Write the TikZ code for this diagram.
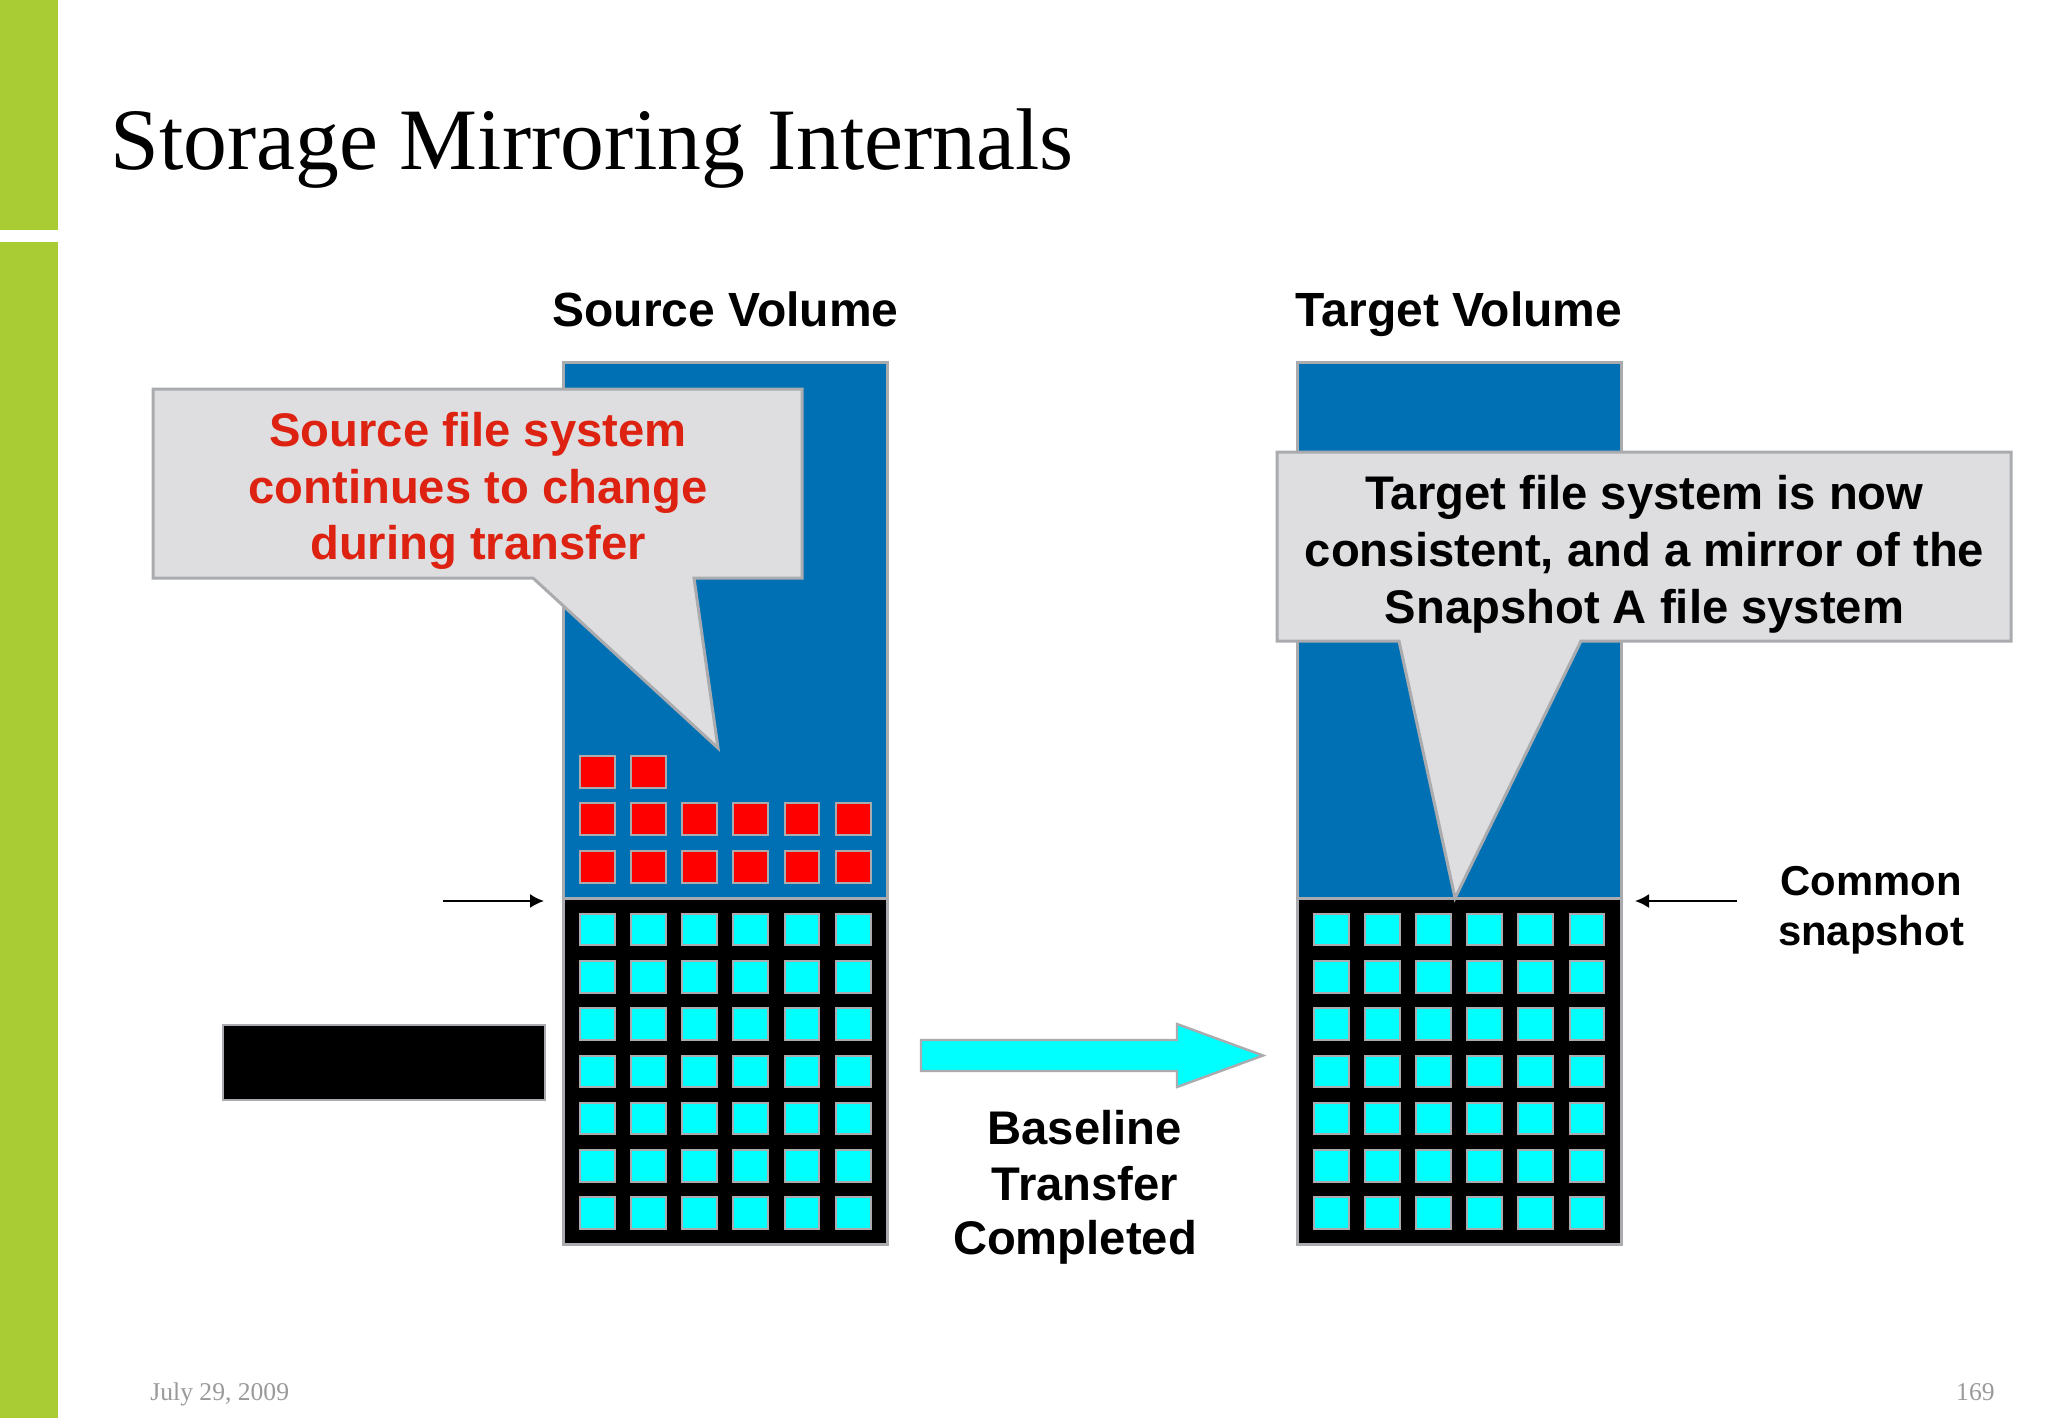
\documentclass[tikz,border=0pt]{standalone}
\usepackage{fontspec}
\setmainfont{Liberation Sans}
\newfontfamily\titlefont{Liberation Serif}
\definecolor{barGreen}{HTML}{A9CC35}
\definecolor{volBlue}{HTML}{0070B5}
\definecolor{edgeGrey}{HTML}{A9ABAE}
\definecolor{calloutGrey}{HTML}{DEDEE0}
\definecolor{calloutRed}{HTML}{DD2211}
\definecolor{cellCyan}{HTML}{00FFFF}
\definecolor{footGrey}{HTML}{9A9A9A}
\usetikzlibrary{arrows.meta}
\tikzset{
  x=0.5pt,y=-0.5pt,
  volume/.style={draw=edgeGrey,line width=1.5pt,fill=#1},
  cell/.style={draw=edgeGrey,line width=1pt,fill=#1,minimum width=17.4pt,minimum height=15.8pt,inner sep=0pt,outer sep=0pt},
  bub/.style={draw=edgeGrey,line width=1.5pt,fill=calloutGrey,line join=miter,miter limit=6},
  bigtext/.style={font=\fontsize{23.6}{28.4}\selectfont\bfseries,align=center,inner sep=0pt},
  headtext/.style={font=\fontsize{24}{28}\selectfont\bfseries,anchor=base,inner sep=0pt},
  smalltext/.style={font=\fontsize{20.9}{25}\selectfont\bfseries,align=center,inner sep=0pt},
  foot/.style={font=\titlefont\fontsize{12.8}{15}\selectfont,text=footGrey,inner sep=0pt},
  thin arrow/.style={draw=black,line width=0.9pt,-{Latex[length=7pt,width=7pt]}},
}
\begin{document}
\begin{tikzpicture}
\useasboundingbox (0,0) rectangle (2048,1418);
\fill[white] (0,0) rectangle (2048,1418);
% side bar
\fill[barGreen] (0,0) rectangle (58,230);
\fill[barGreen] (0,242) rectangle (58,1418);
% title
\node[anchor=base west,inner sep=0pt,font=\titlefont\fontsize{43.8}{50}\selectfont] (title) at (110,169) {Storage Mirroring Internals};
% headers
\node[headtext] (srchead) at (725.5,326) {Source Volume};
\node[headtext] (tgthead) at (1459,326) {Target Volume};
% volumes
\draw[volume=volBlue] (563,362) rectangle (887.5,898);
\draw[volume=black] (563,898) rectangle (887.5,1244);
\draw[volume=volBlue] (1297,362) rectangle (1621.5,898);
\draw[volume=black] (1297,898) rectangle (1621.5,1244);
% cells
\foreach \c in {0,...,5}{
  \foreach \r in {0,...,6}{
    \node[cell=cellCyan] (s\c\r) at ({597.4+51.15*\c},{929.4+47.3*\r}) {};
    \node[cell=cellCyan] (t\c\r) at ({1331.2+51.15*\c},{929.4+47.3*\r}) {};
  }
  \node[cell=red] (ra\c) at ({597.4+51.15*\c},866.7) {};
  \node[cell=red] (rb\c) at ({597.4+51.15*\c},819.2) {};
}
\node[cell=red] (rc0) at (597.4,772) {};
\node[cell=red] (rc1) at (648.55,772) {};
% callouts
\draw[bub] (153,389) -- (802,389) -- (802,578) -- (694,578) -- (718,748) -- (533,578) -- (153,578) -- cycle;
\node[bigtext,text=calloutRed] (srcnote) at (478,491) {Source file system\\continues to change\\during transfer};
\draw[bub] (1277,452) -- (2011,452) -- (2011,641) -- (1581,641) -- (1455,898) -- (1399,641) -- (1277,641) -- cycle;
\node[bigtext] (tgtnote) at (1644.5,554) {Target file system is now\\consistent, and a mirror of the\\Snapshot A file system};
% small arrows
\coordinate (la) at (443,901);
\coordinate (lb) at (544,901);
\coordinate (ra) at (1737,901);
\coordinate (rb) at (1635,901);
\draw[thin arrow] (la) -- (lb);
\draw[thin arrow] (ra) -- (rb);
% common snapshot
\node[smalltext] (common) at (1871,910) {Common\\snapshot};
% black box
\draw[volume=black,line width=1.1pt] (223,1025) rectangle (545,1100);
% big arrow
\draw[draw=edgeGrey,line width=1.2pt,fill=cellCyan,line join=miter] (921,1040) -- (1177,1040) -- (1177,1024) -- (1263,1055.5) -- (1177,1087) -- (1177,1071) -- (921,1071) -- cycle;
% baseline transfer
\node[bigtext] (base) at (1084.5,1128) {Baseline};
\node[bigtext] (trans) at (1085,1184) {Transfer};
\node[bigtext] (comp) at (1075,1242) {Completed};
% footer
\node[foot,anchor=base west] (date) at (150,1400.5) {July 29, 2009};
\node[foot,anchor=base east] (page) at (1995,1400.5) {169};
\end{tikzpicture}
\end{document}
